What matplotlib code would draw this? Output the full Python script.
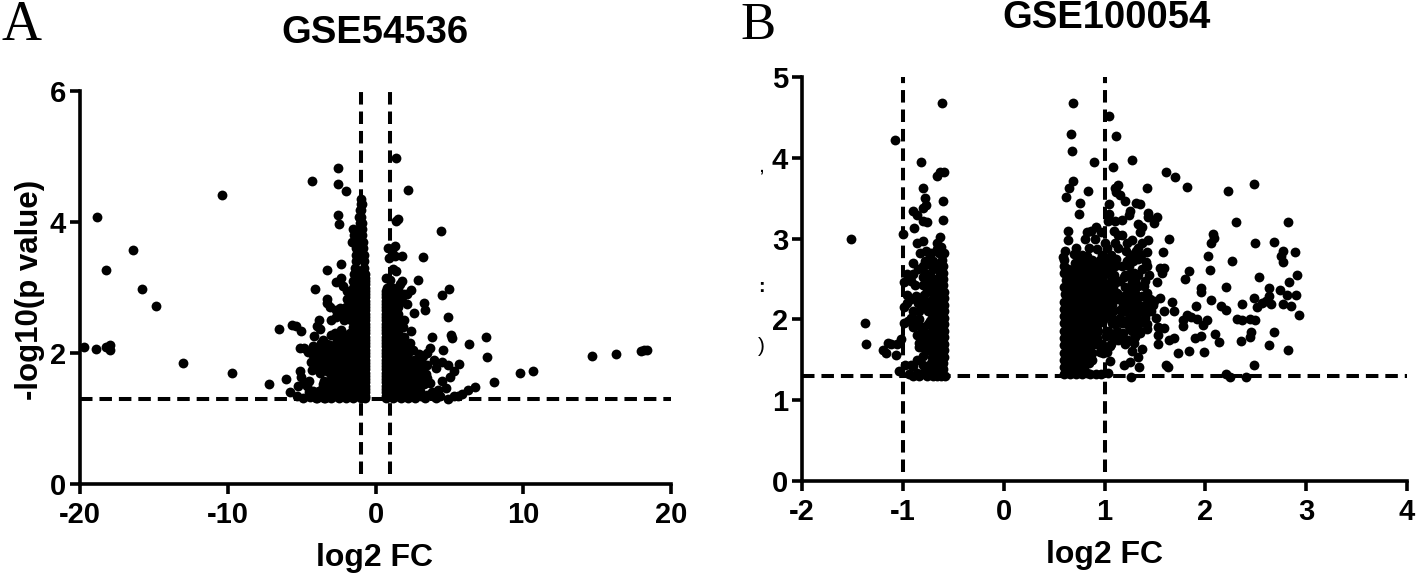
import matplotlib
matplotlib.use("Agg")
import matplotlib.pyplot as plt

W, H = 1418, 578
plt.rcParams['font.family'] = ['Liberation Sans', 'DejaVu Sans']
plt.rcParams['lines.scale_dashes'] = False

# ---------- Panel A data (log2 FC, -log10 p) ----------
a_x_ticks = [-20, -10, 0, 10, 20]
a_y_ticks = [0, 2, 4, 6]
a_sparse_x = [-19.76,-18.94,-18.26,-17.97,-17.97,-18.84,-16.41,-18.26,-15.83,-14.83,-13.0,-10.42,-9.74,-7.23,-6.09,-6.54,
              -5.65,-5.38,-5.01,-4.27,-2.53,-2.56,-2.03,-2.51,-2.48,-3.25,-2.32,-4.12,-2.64,-2.32,-1.95,-2.2,-3.25,-3.27,
              -3.06,-2.40,-1.95,-3.85,-3.98,-3.75,-3.0,-4.14,-2.98,-5.12,-4.85,-4.2,-3.67,-3.27,-2.74,-4.2,-3.8,-3.4,-3.0,
              -4.06,-3.54,-3.14,-3.88,-4.33,-3.27,-5.12,-5.04,-4.85,-5.25,-4.64,-5.78,-4.5,-5.3,-4.9,-3.93,-3.4,-3.54,-3.67,
              1.40,2.22,1.42,1.53,4.46,1.35,0.82,1.11,0.9,1.35,1.77,3.19,1.21,1.42,1.77,1.66,0.69,0.95,2.88,2.4,4.96,4.51,
              3.25,3.32,2.59,4.91,2.4,3.8,5.09,5.2,7.47,6.31,7.57,4.56,3.72,3.46,3.19,3.98,4.51,4.91,5.62,4.12,5.3,5.04,
              4.51,3.72,3.46,4.78,4.25,3.85,6.75,6.25,5.83,5.57,5.3,4.91,8.02,9.76,10.66,14.67,16.31,17.97,18.15,18.36,
              4.12,3.32,3.46]
a_sparse_y = [2.09,2.06,2.09,2.12,2.04,4.07,3.57,3.26,2.97,2.71,1.85,4.41,1.69,1.52,1.61,2.36,
              2.42,2.41,2.33,4.63,4.83,4.58,4.48,4.10,3.97,3.27,3.36,2.98,3.09,3.14,2.95,3.02,2.83,2.76,
              2.70,2.68,2.82,2.5,2.41,2.37,2.51,2.26,2.28,2.07,2.07,2.1,2.16,2.13,2.1,1.97,2.05,2.03,2.05,
              1.87,1.9,1.92,1.8,1.74,1.73,1.72,1.63,1.54,1.49,1.49,1.40,1.41,1.34,1.31,1.31,1.31,1.52,1.44,
              4.97,4.49,4.02,4.05,3.87,3.64,3.60,3.58,3.45,3.48,3.48,3.47,3.28,3.25,3.10,3.06,3.14,3.12,3.11,2.96,2.98,2.88,
              2.76,2.65,2.61,2.55,2.33,2.24,2.27,2.23,2.24,2.14,1.94,2.05,2.08,2.0,1.95,1.90,1.87,1.82,1.83,1.77,1.72,1.64,
              1.58,1.54,1.62,1.46,1.44,1.40,1.48,1.43,1.38,1.35,1.34,1.30,1.56,1.69,1.73,1.95,1.98,2.03,2.04,2.04,
              1.31,1.31,1.36]
a_left_rows = {
    4.35:[-1.0], 4.27:[-1.0,-0.92], 4.18:[-1.05,-0.95], 4.08:[-1.1,-0.95], 3.98:[-1.05,-0.92],
    3.9:[-1.5,-1.15,-0.9], 3.8:[-1.45,-1.1,-0.88], 3.7:[-1.6,-1.2,-0.85], 3.6:[-1.35,-0.85],
    3.5:[-1.3,-0.8], 3.4:[-1.3,-0.8], 3.3:[-1.4,-0.78], 3.2:[-1.45,-1.0,-0.72], 3.1:[-1.5,-1.05,-0.7],
    3.0:[-1.5,-1.05,-0.68], 2.9:[-1.6,-1.15,-0.68], 2.8:[-1.75,-1.25,-0.68], 2.7:[-2.0,-1.55,-1.1,-0.68],
    2.6:[-2.1,-1.65,-1.15,-0.68], 2.5:[-2.1,-1.65,-1.15,-0.68], 2.4:[-1.5,-1.05,-0.68], 2.3:[-1.75,-1.25,-0.68],
    2.2:[-2.1,-1.65,-1.15,-0.68], 2.1:[-2.3,-1.8,-1.3,-0.68], 2.0:[-2.45,-1.95,-1.45,-1.05,-0.68],
    1.9:[-2.55,-2.05,-1.55,-1.05,-0.68], 1.8:[-2.6,-2.1,-1.6,-1.1,-0.68], 1.7:[-2.75,-2.25,-1.7,-1.2,-0.68],
    1.6:[-3.0,-2.5,-2.0,-1.5,-1.0,-0.68], 1.5:[-3.3,-2.8,-2.3,-1.8,-1.3,-0.68],
    1.4:[-3.55,-3.05,-2.55,-2.05,-1.55,-1.05,-0.68], 1.31:[-4.0,-3.5,-3.0,-2.5,-2.0,-1.5,-1.0,-0.68],
}
a_left_fill = {
    3.45:[-1.05], 3.25:[-1.1], 3.15:[-0.72], 3.05:[-1.28,-0.9,-0.68], 2.95:[-1.3,-0.9,-0.68], 2.85:[-1.45,-0.95,-0.68],
    2.75:[-1.75,-1.35,-0.9,-0.68], 2.65:[-1.9,-1.4,-0.9,-0.68], 2.55:[-1.9,-1.4,-0.9,-0.68], 2.45:[-1.25,-0.85,-0.68],
    2.35:[-1.5,-1.0,-0.68], 2.25:[-1.9,-1.4,-0.9,-0.68], 2.15:[-2.05,-1.55,-1.0,-0.68], 2.05:[-2.2,-1.7,-1.2,-0.85,-0.68],
    1.95:[-2.3,-1.8,-1.3,-0.85,-0.68], 1.85:[-2.35,-1.85,-1.35,-0.85,-0.68], 1.75:[-2.5,-2.0,-1.45,-0.95,-0.68],
    1.65:[-2.75,-2.25,-1.75,-1.25,-0.85,-0.68], 1.55:[-3.05,-2.55,-2.05,-1.55,-1.0,-0.68],
    1.45:[-3.3,-2.8,-2.3,-1.8,-1.3,-0.85,-0.68], 1.35:[-3.75,-3.25,-2.75,-2.25,-1.75,-1.25,-0.85,-0.68],
}
a_left_outer = {
    2.65:[-2.7,-2.45], 2.55:[-2.65], 2.35:[-2.35], 2.3:[-2.75,-2.3], 2.2:[-3.55,-2.6], 2.12:[-3.1,-2.7],
    2.02:[-4.55,-3.6,-3.2,-2.85], 1.95:[-3.9,-3.55,-3.1,-2.8], 1.86:[-4.35,-3.35,-2.95], 1.78:[-3.6,-3.15,-2.9], 1.7:[-3.75,-3.05],
    1.58:[-4.5,-3.5], 1.42:[-4.2,-3.85], 1.33:[-4.4],
}
a_right_rows = {
    3.0:[0.75,1.2,1.55], 2.9:[0.7,1.15,1.6,1.9], 2.8:[0.7,1.1,1.55,1.8], 2.7:[0.7,1.1,1.5], 2.6:[0.7,1.1,1.55],
    2.5:[0.7,1.1,1.55], 2.4:[0.7,1.1,1.5], 2.3:[0.7,1.1,1.55], 2.2:[0.7,1.15,1.65], 2.1:[0.7,1.2,1.7,2.05],
    2.0:[0.7,1.2,1.7,2.2], 1.9:[0.7,1.2,1.7,2.2,2.6], 1.8:[0.7,1.2,1.7,2.2,2.7], 1.7:[0.7,1.2,1.7,2.2,2.7],
    1.6:[0.7,1.2,1.7,2.2,2.7], 1.5:[0.7,1.2,1.7,2.2,2.6], 1.4:[0.7,1.2,1.7,2.2,2.6], 1.31:[0.7,1.2,1.7,2.2,2.7],
}
a_right_fill = {
    2.95:[0.7,0.95,1.4], 2.85:[0.7,0.9,1.35], 2.75:[0.7,0.9,1.3], 2.65:[0.7,0.9,1.3], 2.55:[0.7,0.9,1.3],
    2.45:[0.7,0.9,1.3], 2.35:[0.7,0.9,1.3], 2.25:[0.7,0.9,1.4], 2.15:[0.7,0.95,1.45], 2.05:[0.7,0.95,1.45,1.9],
    1.95:[0.7,0.95,1.45,1.95], 1.85:[0.7,0.95,1.45,1.95,2.4], 1.75:[0.7,0.95,1.45,1.95,2.45],
    1.65:[0.7,0.95,1.45,1.95,2.45], 1.55:[0.7,0.95,1.45,1.95,2.4], 1.45:[0.7,0.95,1.45,1.95,2.4],
    1.35:[0.7,0.95,1.45,1.95,2.45],
}
a_right_outer = {
    2.9:[2.15], 2.75:[2.1], 2.5:[1.9], 2.4:[1.85], 2.25:[1.95], 2.15:[2.35], 2.05:[2.55], 1.98:[2.95], 1.9:[3.05], 1.82:[3.25,3.5],
    1.75:[3.1], 1.68:[3.2,3.45], 1.6:[3.05], 1.52:[3.0,3.25], 1.42:[3.0], 1.34:[3.1,3.9,4.35],
}

# ---------- Panel B data ----------
b_x_ticks = [-2, -1, 0, 1, 2, 3, 4]
b_y_ticks = [0, 1, 2, 3, 4, 5]
b_sparse_x = [-1.51,-1.38,-1.37,-1.20,-1.17,-1.15,-1.12,-1.07,-1.06,-1.02,-1.04,-0.98,-0.92,-0.94,-1.08,-0.61,-0.82,-0.66,-0.59,-0.63,
              -0.80,-0.78,-0.77,-0.80,-0.60,-0.60,-0.90,-0.86,-0.80,-0.76,-0.89,-1.0,-0.63,-0.66,-0.86,-0.80,-0.77,-0.66,-0.90,-0.80,
              -0.75,-0.74,-0.96,-0.90,-0.99,-0.92,-0.78,-0.76,-0.99,-0.92,-0.87,-0.82,-0.76,-0.80,-0.92,-0.95,-0.99,-0.84,-0.86,-0.84,-0.86,-0.80,-0.8,
              0.69,0.67,0.68,0.69,0.65,0.62,0.84,0.76,0.75,0.90,1.04,1.11,1.27,1.08,1.61,1.70,1.82,1.42,2.22,2.48,1.13,1.10,1.11,1.15,1.20,
              1.04,1.31,1.35,1.04,1.25,1.24,1.17,1.10,1.03,1.43,1.43,1.52,1.49,1.33,1.37,1.35,2.30,0.64,0.64,0.61,0.59,0.83,0.87,0.92,0.97,0.81,0.91,
              1.09,1.13,1.17,1.27,1.37,1.43,1.64,1.21,1.31,1.42,1.58,0.70,0.83,0.93,1.55,1.59,1.57,1.52,1.84,1.80,2.03,2.05,2.08,2.09,2.06,
              2.26,2.49,2.68,2.77,2.75,2.77,2.89,2.82,2.91,2.83,2.53,2.63,2.74,2.81,2.90,2.77,2.85,2.93,2.48,2.51,2.56,2.60,2.65,2.63,
              2.36,2.20,1.96,1.96,2.06,2.16,2.20,2.31,2.36,2.44,2.49,1.91,1.82,1.86,1.92,1.98,2.02,1.78,1.78,2.68,2.45,2.44,2.35,2.63,2.82,
              2.10,2.14,1.96,1.90,1.99,1.84,1.73,2.48,2.20,2.40,2.24,1.61,1.63,1.26,1.34,1.25,1.19,1.33,1.37,1.27,1.53,1.53,1.59,1.53,1.64,1.69,
              1.67,1.69,1.59,1.51,1.55,1.49,1.43,1.41,1.42,1.35,1.29,1.23,1.13,1.18,1.01,1.05,0.99,1.05,1.03,0.97,0.83,
              1.33,1.39,1.25,1.17,1.11,1.05,1.11,1.19,1.29,1.37,1.41,1.33,1.27,1.09,1.19,1.27,1.37,1.05,1.15,1.25,1.35,1.07,1.17,1.29,1.35,1.25]
b_sparse_y = [2.99,1.95,1.69,1.62,1.59,1.71,1.69,1.56,1.69,1.76,1.36,1.44,1.43,1.32,4.22,4.68,3.95,3.78,3.82,3.83,
              3.63,3.50,3.42,3.38,3.46,3.23,3.34,3.29,3.22,3.20,3.13,3.06,3.02,2.95,2.95,2.97,2.85,2.87,2.70,2.66,
              2.68,2.75,2.56,2.56,2.46,2.48,2.58,2.49,2.15,2.25,2.29,2.25,2.35,2.17,2.02,1.98,1.96,1.92,1.81,1.71,1.50,1.44,1.34,
              4.68,4.29,4.08,3.71,3.63,3.51,3.59,3.44,3.31,3.95,4.52,4.27,3.97,3.88,3.83,3.76,3.64,3.63,3.59,3.67,3.66,3.63,3.58,3.54,3.47,
              3.43,3.44,3.43,3.31,3.34,3.29,3.23,3.22,3.22,3.32,3.27,3.27,3.19,3.18,3.14,3.08,3.20,3.09,2.98,2.85,2.77,3.08,3.10,3.14,3.08,3.0,3.0,
              3.10,3.05,3.04,2.98,2.95,2.98,2.99,2.85,2.85,2.83,2.84,2.81,2.79,2.87,2.64,2.63,2.57,2.46,2.60,2.50,2.78,2.61,3.06,3.01,2.94,
              2.72,2.95,2.96,2.85,2.78,2.71,2.83,3.21,2.55,2.46,2.52,2.39,2.36,2.30,2.30,2.19,2.16,2.05,2.27,2.15,2.20,2.23,2.19,2.29,
              2.19,2.40,2.39,2.34,2.24,2.17,2.12,2.0,1.99,2.01,1.99,2.17,2.06,2.03,2.01,1.93,1.99,1.99,1.92,1.84,1.85,1.78,1.73,1.68,1.62,
              1.82,1.72,1.80,1.77,1.60,1.61,1.59,1.43,1.33,1.29,1.29,1.44,1.41,1.29,1.41,1.47,1.44,1.54,1.63,1.61,1.70,1.81,1.89,1.90,1.75,1.77,
              2.21,2.10,2.10,2.02,2.26,2.23,2.22,2.08,1.88,1.83,1.71,1.75,1.75,1.83,1.79,1.67,1.59,1.48,1.34,1.32,1.34,
              2.41,2.41,2.37,2.66,2.75,2.62,2.46,2.52,2.58,2.62,2.71,2.75,2.46,2.29,2.29,2.25,2.29,2.21,2.12,2.17,2.17,1.96,1.96,2.04,1.96,1.88]
b_band_rows = {
    2.9:[-0.62], 2.82:[-0.64,-0.59], 2.74:[-0.61], 2.66:[-0.6,-0.65], 2.58:[-0.6,-0.63], 2.5:[-0.6,-0.66],
    2.42:[-0.6,-0.66,-0.72], 2.38:[-0.63,-0.69], 2.34:[-0.59,-0.65,-0.71], 2.3:[-0.62,-0.68], 2.26:[-0.59,-0.64,-0.7],
    2.22:[-0.62,-0.68,-0.74], 2.18:[-0.59,-0.65,-0.71,-0.76], 2.14:[-0.62,-0.68,-0.73],
    2.1:[-0.59,-0.64,-0.7,-0.75], 2.06:[-0.62,-0.68], 2.02:[-0.59,-0.65,-0.71], 1.98:[-0.62,-0.68,-0.73], 1.94:[-0.59,-0.64,-0.7,-0.75],
    1.9:[-0.62,-0.68], 1.86:[-0.59,-0.65,-0.71,-0.8], 1.82:[-0.62,-0.68,-0.74],
    1.78:[-0.59,-0.64,-0.7,-0.76,-0.82], 1.74:[-0.62,-0.68], 1.7:[-0.59,-0.65,-0.71,-0.78], 1.66:[-0.62,-0.68,-0.74],
    1.62:[-0.59,-0.64,-0.7,-0.75], 1.58:[-0.62,-0.68], 1.54:[-0.59,-0.65,-0.71], 1.5:[-0.62,-0.68],
    1.46:[-0.6,-0.66,-0.72], 1.42:[-0.63,-0.69], 1.38:[-0.6,-0.65,-0.7,-0.76], 1.34:[-0.62,-0.68], 1.3:[-0.58,-0.62,-0.66,-0.7,-0.76,-0.84,-0.9],
}
b_main_rows = {
    2.74:[0.6,0.74,0.81,0.88,0.96], 2.66:[0.6,0.72,0.78,0.85,0.92,0.99], 2.58:[0.6,0.67,0.74,0.81,0.88,0.95,1.02],
    2.49:[0.62,0.67,0.74,0.81,0.88,0.95], 2.4:[0.6,0.67,0.74,0.81,0.88,0.95,1.02], 2.31:[0.61,0.67,0.74,0.81,0.88,0.95,1.02],
    2.22:[0.6,0.67,0.74,0.81,0.88,0.95,1.02], 2.13:[0.6,0.67,0.74,0.81,0.88,0.95,1.02], 2.04:[0.6,0.67,0.74,0.81,0.88,0.95,1.02],
    1.95:[0.6,0.67,0.74,0.81,0.88,0.95], 1.86:[0.6,0.67,0.74,0.81,0.88,0.94], 1.77:[0.6,0.67,0.74,0.81,0.88,0.93],
    1.68:[0.6,0.67,0.74,0.81,0.88,0.95], 1.59:[0.6,0.67,0.74,0.81,0.88], 1.5:[0.6,0.67,0.74,0.81,0.88], 1.41:[0.6,0.67,0.74,0.8],
    1.32:[0.6,0.66,0.72,0.78,0.86,0.92],
}
b_main_fill = {
    2.7:[0.705,0.775,0.845,0.915], 2.62:[0.635,0.705,0.775,0.845,0.915,0.985], 2.535:[0.635,0.705,0.775,0.845,0.915,0.985],
    2.445:[0.635,0.705,0.775,0.845,0.915,0.985], 2.355:[0.635,0.705,0.775,0.845,0.915,0.985], 2.265:[0.635,0.705,0.775,0.845,0.915,0.985],
    2.175:[0.635,0.705,0.775,0.845,0.915,0.985], 2.085:[0.635,0.705,0.775,0.845,0.915,0.985], 1.995:[0.635,0.705,0.775,0.845,0.915,0.985],
    1.905:[0.635,0.705,0.775,0.845,0.915], 1.815:[0.635,0.705,0.775,0.845,0.915], 1.725:[0.635,0.705,0.775,0.845,0.915],
    1.635:[0.635,0.705,0.775,0.845], 1.545:[0.635,0.705,0.775,0.845], 1.455:[0.635,0.705,0.775,0.845], 1.365:[0.635,0.705,0.775],
}
b_main_outer = {
    2.95:[1.0,1.1,1.22], 2.88:[0.72,0.85,1.02,1.13,1.33], 2.8:[0.78,0.98,1.06,1.25,1.36], 2.72:[1.03,1.22,1.28],
    2.66:[1.1,1.24,1.42], 2.55:[1.09,1.2,1.24,1.33,1.44], 2.48:[1.06,1.15,1.3,1.4], 2.4:[1.08,1.2,1.3],
    2.33:[1.05,1.12,1.24,1.3,1.42], 2.25:[1.08,1.13,1.22,1.32,1.45], 2.18:[1.07,1.18,1.3,1.4,1.48], 2.1:[1.08,1.2,1.28,1.36,1.46],
    2.02:[1.07,1.15,1.24,1.32,1.4], 1.94:[1.1,1.22,1.3,1.42], 1.86:[1.03,1.12,1.27,1.34], 1.78:[1.08,1.17,1.3],
    1.7:[0.98,1.06,1.2], 1.6:[0.96,1.02],
}
b_band_outer = {
    2.82:[-0.72,-0.83], 2.72:[-0.7,-0.78], 2.62:[-0.7,-0.85], 2.52:[-0.72,-0.8], 2.42:[-0.8,-0.88], 2.3:[-0.79,-0.96],
    2.2:[-0.85,-0.96], 2.1:[-0.84,-0.9], 2.0:[-0.84,-0.89], 1.9:[-0.9,-0.8], 1.8:[-0.82], 1.66:[-0.84,-0.8], 1.55:[-0.8],
    1.42:[-0.74,-0.9], 1.34:[-0.78,-0.86],
}

A_BOX = (80, 91, 671, 484)   # left, top, right, bottom in pixels
B_BOX = (802, 77, 1407, 481)
fig = plt.figure(figsize=(W/100, H/100), dpi=100)


def rows_to_xy(rows):
    xs, ys = [], []
    for y, row in rows.items():
        xs += row
        ys += [y]*len(row)
    return xs, ys


def make_axes(box):
    l, t, r, b = box
    ax = fig.add_axes([l/W, 1-b/H, (r-l)/W, (b-t)/H])
    for s in ('top', 'right'):
        ax.spines[s].set_visible(False)
    for s in ('left', 'bottom'):
        ax.spines[s].set_linewidth(2.6)
    ax.tick_params(width=2.6, length=7.5, labelsize=21)
    ax.tick_params(axis='x', pad=5)
    ax.tick_params(axis='y', pad=2.5)
    return ax


def draw(ax, sx, sy, rowsets, xlim, ylim, xticks, yticks, vtop, vbot):
    ax.set_xlim(*xlim)
    ax.set_ylim(*ylim)
    ax.set_xticks(xticks)
    ax.set_yticks(yticks)
    ax.set_xticklabels([str(v) for v in xticks], fontweight='bold')
    ax.set_yticklabels([str(v) for v in yticks], fontweight='bold')
    dash = (0, (9, 5))
    for v in (-1, 1):
        ax.plot([v, v], [vbot, vtop], color='black', lw=2.9, ls=dash, clip_on=False)
    ax.plot(list(xlim), [1.3, 1.3], color='black', lw=2.9, ls=dash, clip_on=False)
    ax.scatter(sx, sy, s=50, color='black', linewidths=0, clip_on=False, zorder=3)
    for rows in rowsets:
        x, y = rows_to_xy(rows)
        ax.scatter(x, y, s=50, color='black', linewidths=0, clip_on=False, zorder=3)


axA = make_axes(A_BOX)
draw(axA, a_sparse_x, a_sparse_y, [a_left_rows, a_left_fill, a_left_outer, a_right_rows, a_right_fill, a_right_outer],
     (-20, 20), (0, 6), a_x_ticks, a_y_ticks, 6, 0.15)
axB = make_axes(B_BOX)
draw(axB, b_sparse_x, b_sparse_y, [b_band_rows, b_band_outer, b_main_rows, b_main_fill, b_main_outer],
     (-2, 4), (0, 5), b_x_ticks, b_y_ticks, 5, 0.11)


def ptext(x, y, s, **kw):
    fig.text(x/W, 1-y/H, s, ha='center', va='center', **kw)


ptext(375, 33, 'GSE54536', fontsize=27.5, fontweight='bold')
ptext(1107, 18, 'GSE100054', fontsize=27.5, fontweight='bold')
ptext(375, 558, 'log2 FC', fontsize=23, fontweight='bold')
ptext(1105, 555, 'log2 FC', fontsize=23, fontweight='bold')
ptext(30, 290, '-log10(p value)', fontsize=22.5, fontweight='bold', rotation=90)
ptext(21, 26, 'A', fontsize=40, family='Liberation Serif')
ptext(758, 26, 'B', fontsize=38, family='Liberation Serif')
# clipped remains of an axis title at the left of panel B
ptext(761, 288, ':', fontsize=14, fontweight='bold')
ptext(761, 346, ')', fontsize=15)
ptext(761, 168, ',', fontsize=10, fontweight='bold')

fig.savefig('out.png', dpi=100)
